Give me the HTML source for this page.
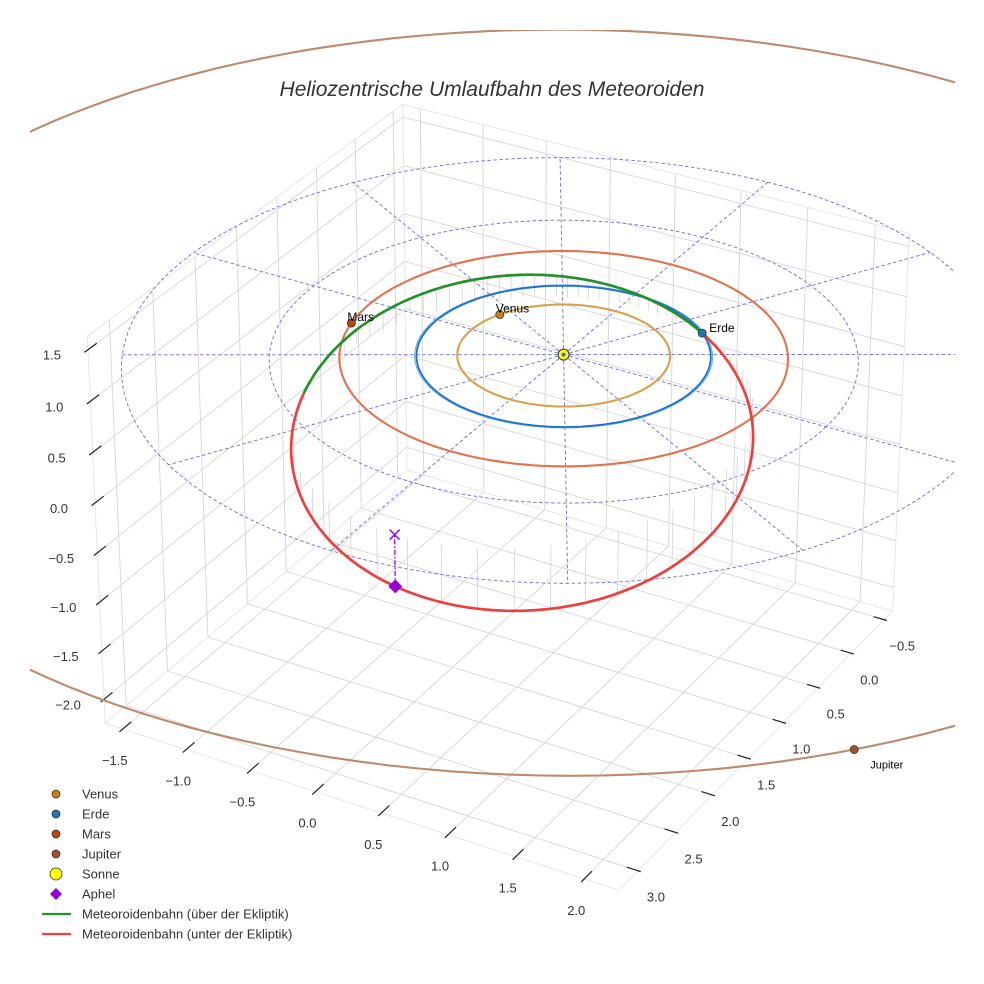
<!DOCTYPE html>
<html><head><meta charset="utf-8"><style>
html,body{margin:0;padding:0;background:#fff;}
svg{display:block;font-family:"Liberation Sans",Arial,sans-serif;}
</style></head><body>
<svg id="chart" width="984" height="984" viewBox="0 0 984 984" xmlns="http://www.w3.org/2000/svg">
<defs><clipPath id="plotclip"><rect x="30" y="30" width="925" height="930"/></clipPath></defs>
<rect width="984" height="984" fill="#fff"/>
<text x="492" y="96" text-anchor="middle" font-size="21" font-style="italic" fill="#333">Heliozentrische Umlaufbahn des Meteoroiden</text>
<g id="grid"></g>
<g id="axes"></g>
<g id="plot" clip-path="url(#plotclip)"></g>
<g id="legend"></g>
</svg>
<script>
// ---- data ----
const xTicks = [-1.5,-1.0,-0.5,0.0,0.5,1.0,1.5,2.0];
const yTicks = [-0.5,0.0,0.5,1.0,1.5,2.0,2.5,3.0];
const zTicks = [-2.0,-1.5,-1.0,-0.5,0.0,0.5,1.0,1.5];
const planetNames = ["Venus","Erde","Mars","Jupiter"];
const planetRadii = [0.723,1.0,1.524,5.2];
const planetAngles = [-157,-47.8,167.3,41];
const planetOrbitColors = ["#d6a24e","#2070d0","#e07350","#bd8a6e"];
const planetColors = ["#c8820f","#1f77b4","#c1440e","#a0522d"];
const ringRadii = [1,2,3];
const spokeAngles = [0,30,60,90,120,150,180,210,240,270,300,330];
// meteoroid orbital elements: a, e, i, Omega, omega
const meteorElements = [1.781, 0.522, 14.8, 132.2, 124.5];
const aphelAnomaly = [187];

// ---- projection (matplotlib-like perspective, elev 30, azim -60, y inverted) ----
const xlim=[-1.64,2.25], ylim=[-0.63,3.25], zlim=[-2.25,1.63];
const A=[1.143,1.143,0.857];
const el=30*Math.PI/180, az=-60*Math.PI/180;
const W=[Math.cos(el)*Math.cos(az),Math.cos(el)*Math.sin(az),Math.sin(el)];
const U=[-Math.sin(az),Math.cos(az),0];
const V=[W[1]*U[2]-W[2]*U[1],W[2]*U[0]-W[0]*U[2],W[0]*U[1]-W[1]*U[0]];
const E=[A[0]/2+10*W[0],A[1]/2+10*W[1],A[2]/2+10*W[2]];
const K=5150, CX=505.9, CY=479.1;
function P(x,y,z){
  const n=[(x-xlim[0])/(xlim[1]-xlim[0])*A[0],(ylim[1]-y)/(ylim[1]-ylim[0])*A[1],(z-zlim[0])/(zlim[1]-zlim[0])*A[2]];
  const d=[n[0]-E[0],n[1]-E[1],n[2]-E[2]];
  const dep=-(d[0]*W[0]+d[1]*W[1]+d[2]*W[2]);
  return [CX+K*(d[0]*U[0]+d[1]*U[1])/dep, CY-K*(d[0]*V[0]+d[1]*V[1]+d[2]*V[2])/dep];
}
const NS="http://www.w3.org/2000/svg";
function mk(tag,attrs,parent){const e=document.createElementNS(NS,tag);for(const k in attrs)e.setAttribute(k,attrs[k]);parent.appendChild(e);return e;}
function pathFrom(pts){return pts.map((p,i)=>(i?"L":"M")+p[0].toFixed(1)+" "+p[1].toFixed(1)).join("");}
const fmt=v=>(v<0?"\u2212":"")+Math.abs(v).toFixed(1);

const grid=document.getElementById("grid"), axes=document.getElementById("axes"), plot=document.getElementById("plot"), legend=document.getElementById("legend");
const [x0,x1]=xlim,[y0,y1]=ylim,[z0,z1]=zlim;
function gl(a,b,col,w){const l=mk("line",{x1:a[0],y1:a[1],x2:b[0],y2:b[1],stroke:col,"stroke-width":w},grid);

}
// pane borders
[[[x0,y0,z0],[x0,y1,z0]],[[x0,y0,z0],[x1,y0,z0]],[[x0,y0,z0],[x0,y0,z1]],[[x0,y1,z0],[x0,y1,z1]],[[x1,y0,z0],[x1,y0,z1]],[[x0,y1,z1],[x0,y0,z1]],[[x0,y0,z1],[x1,y0,z1]],[[x1,y1,z0],[x0,y1,z0]],[[x1,y1,z0],[x1,y0,z0]]].forEach(s=>gl(P(...s[0]),P(...s[1]),"#e6e6e6",1));
xTicks.forEach(x=>{gl(P(x,y0,z0),P(x,y1,z0),"#d6d6d6",0.9);gl(P(x,y0,z0),P(x,y0,z1),"#d6d6d6",0.9);});
yTicks.forEach(y=>{gl(P(x0,y,z0),P(x1,y,z0),"#d6d6d6",0.9);gl(P(x0,y,z0),P(x0,y,z1),"#d6d6d6",0.9);});
zTicks.forEach(z=>{gl(P(x0,y0,z),P(x0,y1,z),"#d6d6d6",0.9);gl(P(x0,y0,z),P(x1,y0,z),"#d6d6d6",0.9);});

// ticks & labels
function tick(a,b,lp,txt,name){
  const l=mk("line",{x1:a[0],y1:a[1],x2:b[0],y2:b[1],stroke:"#222","stroke-width":1.2},axes);
  
  
  const t=mk("text",{x:lp[0],y:lp[1],"text-anchor":"middle","font-size":13,fill:"#333"},axes);
  t.textContent=txt;
  
  
}
xTicks.forEach(x=>{const p=P(x,y1,z0);tick(P(x,y1+0.04,z0),P(x,y1-0.1,z0),[p[0]-8,p[1]+36],fmt(x),'x-axis');});
yTicks.forEach(y=>{const p=P(x1,y,z0);tick(P(x1+0.02,y,z0),P(x1-0.08,y,z0),[p[0]+18,p[1]+31],fmt(y),'y-axis');});
zTicks.forEach(z=>{const p=P(x0,y1,z);tick(P(x0,y1+0.04,z),P(x0,y1-0.1,z),[p[0]-36,p[1]+10],fmt(z),'z-axis');});

// ecliptic rings and spokes
const D2R=Math.PI/180;
function circlePts(r){const pts=[];for(let k=0;k<=360;k+=2)pts.push(P(r*Math.cos(k*D2R),r*Math.sin(k*D2R),0));return pts;}
ringRadii.forEach(r=>{const e=mk("path",{d:pathFrom(circlePts(r)),fill:"none",stroke:"#6a6ae8","stroke-width":0.9,"stroke-dasharray":"3.5,2.5"},plot);

});
spokeAngles.forEach(a=>{const R=ringRadii[ringRadii.length-1];const p=P(0,0,0),q=P(R*Math.cos(a*D2R),R*Math.sin(a*D2R),0);
const e=mk("line",{x1:p[0],y1:p[1],x2:q[0],y2:q[1],stroke:"#6a6ae8","stroke-width":0.9,"stroke-dasharray":"3.5,2.5"},plot);

});

// meteoroid orbit
const [ma,me,mi,mO,mw]=meteorElements;
function meteorPos(nu){const p=ma*(1-me*me);const r=p/(1+me*Math.cos(nu*D2R));const u=(mw+nu)*D2R,O=mO*D2R,i=mi*D2R;
return [r*(Math.cos(O)*Math.cos(u)-Math.sin(O)*Math.sin(u)*Math.cos(i)),r*(Math.sin(O)*Math.cos(u)+Math.cos(O)*Math.sin(u)*Math.cos(i)),r*Math.sin(u)*Math.sin(i)];}
// drop lines
for(let nu=0;nu<360;nu+=5){const q=meteorPos(nu);const a=P(...q),b=P(q[0],q[1],0);
const e=mk("line",{x1:a[0],y1:a[1],x2:b[0],y2:b[1],stroke:"#cccccc","stroke-width":0.7},plot);

}

// planet orbits
planetRadii.forEach((r,k)=>{
  if(k===1){const e2=mk("path",{d:pathFrom(circlePts(r*1.012)),fill:"none",stroke:"#6aaee0","stroke-width":1.1},plot);
  
  }
  const e=mk("path",{d:pathFrom(circlePts(r)),fill:"none",stroke:planetOrbitColors[k],"stroke-width":k===1?1.8:2.1},plot);
  
  
});

// meteoroid segments
let seg=[],sign=null;
function flush(s){if(seg.length<2)return;const e=mk("path",{d:pathFrom(seg),fill:"none",stroke:s>0?"#23922a":"#ee3f3f","stroke-width":2.7,"stroke-linejoin":"round"},plot);

}
for(let nu=0;nu<=360;nu+=1){const q=meteorPos(nu);const s=q[2]>=0?1:-1;const pt=P(...q);
 if(sign!==null&&s!==sign){seg.push(pt);flush(sign);seg=[pt];}else seg.push(pt);sign=s;}
flush(sign);

// aphelion
const ap=meteorPos(aphelAnomaly[0]);const apP=P(...ap),apE=P(ap[0],ap[1],0);
let e=mk("line",{x1:apP[0],y1:apP[1],x2:apE[0],y2:apE[1],stroke:"#9400d3","stroke-width":1.3,"stroke-dasharray":"5,2,1.5,2"},plot);


e=mk("path",{d:`M${apE[0]-5} ${apE[1]-5}L${apE[0]+5} ${apE[1]+5}M${apE[0]-5} ${apE[1]+5}L${apE[0]+5} ${apE[1]-5}`,stroke:"#9400d3","stroke-width":1.4},plot);


e=mk("path",{d:`M${apP[0]} ${apP[1]-7}L${apP[0]+7} ${apP[1]}L${apP[0]} ${apP[1]+7}L${apP[0]-7} ${apP[1]}Z`,fill:"#9400d3"},plot);



// planets
planetRadii.forEach((r,k)=>{
  const a=planetAngles[k]*D2R;const p=P(r*Math.cos(a),r*Math.sin(a),0);
  const c=mk("circle",{cx:p[0],cy:p[1],r:4,fill:planetColors[k],stroke:"#333","stroke-width":0.8},plot);
  
  
  const lab=k===3?[p[0]+16,p[1]+19]:k===1?[p[0]+7,p[1]-1]:[p[0]-4,p[1]-2];
  const t=mk("text",{x:lab[0],y:lab[1],"font-size":k===3?11:12,fill:"#000"},plot);
  t.textContent=planetNames[k];
  
  
});
const sp=P(0,0,0);
e=mk("circle",{cx:sp[0],cy:sp[1],r:5.5,fill:"#ffff00",stroke:"#333","stroke-width":1},plot);


e=mk("circle",{cx:sp[0],cy:sp[1],r:2,fill:"#5560c0"},plot);



// legend
const legendLabels=["Venus","Erde","Mars","Jupiter","Sonne","Aphel","Meteoroidenbahn (über der Ekliptik)","Meteoroidenbahn (unter der Ekliptik)"];
legendLabels.forEach((lab,k)=>{
  const y=794+k*20;
  let m;
  if(k<4){m=mk("circle",{cx:56,cy:y,r:4,fill:planetColors[k],stroke:"#333","stroke-width":0.8},legend);}
  else if(k===4){m=mk("circle",{cx:56,cy:y,r:6,fill:"#ffff00",stroke:"#333","stroke-width":0.8},legend);}
  else if(k===5){m=mk("path",{d:`M56 ${y-6}L62 ${y}L56 ${y+6}L50 ${y}Z`,fill:"#9400d3"},legend);}
  else{m=mk("line",{x1:42,y1:y,x2:71,y2:y,stroke:k===6?"#23922a":"#ee3f3f","stroke-width":2.2},legend);}
  
  
  const t=mk("text",{x:82,y:y+4.5,"font-size":13,fill:"#333"},legend);
  t.textContent=lab;
  
  
});
</script>
</body></html>
